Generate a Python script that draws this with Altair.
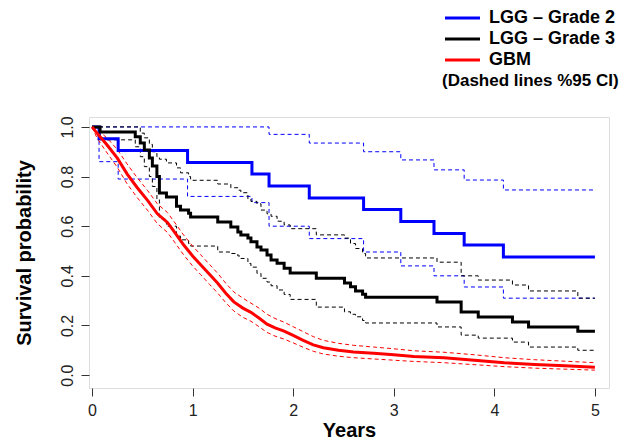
import altair as alt
import pandas as pd

FONT = "Liberation Sans"
groups = ["LGG – Grade 2", "LGG – Grade 3", "GBM"]
colors = ["#0000FF", "#000000", "#FF0000"]

# LGG - Grade 2 (blue)
g2_t = [0, 0.07, 0.26, 0.95, 1.59, 1.76, 2.16, 2.70, 3.07, 3.40, 3.70, 4.09, 5.0]
g2_s = [1.0, 0.952, 0.905, 0.857, 0.81, 0.762, 0.714, 0.667, 0.619, 0.571, 0.524, 0.476, 0.476]
g2_hi = [1.0, 1.0, 1.0, 1.0, 1.0, 0.97, 0.935, 0.90, 0.867, 0.827, 0.786, 0.746, 0.746]
g2_lo = [1.0, 0.86, 0.79, 0.72, 0.695, 0.60, 0.55, 0.496, 0.44, 0.40, 0.355, 0.31, 0.31]

# LGG - Grade 3 (black)
g3_t = [0, 0.08, 0.43, 0.48, 0.52, 0.57, 0.60, 0.645, 0.67, 0.74,
        0.84, 0.88, 0.96, 0.98, 1.25, 1.38, 1.45, 1.48, 1.55, 1.58,
        1.64, 1.68, 1.74, 1.78, 1.84, 1.91, 1.97, 2.23, 2.51, 2.57,
        2.62, 2.69, 2.72, 3.43, 3.67, 3.84, 4.18, 4.34, 4.83, 5.0]
g3_s = [1.0, 0.98, 0.96, 0.935, 0.907, 0.875, 0.843, 0.80, 0.734, 0.718,
        0.68, 0.665, 0.652, 0.637, 0.617, 0.597, 0.577, 0.565, 0.552, 0.537,
        0.516, 0.504, 0.484, 0.464, 0.451, 0.431, 0.411, 0.39, 0.371, 0.356,
        0.339, 0.326, 0.314, 0.295, 0.254, 0.234, 0.214, 0.194, 0.177, 0.177]
g3_hi = [1.0, 1.0, 1.0, 0.975, 0.956, 0.93, 0.90, 0.88, 0.87, 0.855,
         0.835, 0.815, 0.80, 0.785, 0.77, 0.755, 0.745, 0.735, 0.71, 0.70,
         0.69, 0.665, 0.65, 0.64, 0.62, 0.605, 0.59, 0.565, 0.552, 0.53,
         0.51, 0.49, 0.472, 0.455, 0.40, 0.383, 0.363, 0.339, 0.31, 0.31]
g3_lo = [1.0, 0.948, 0.92, 0.88, 0.84, 0.80, 0.76, 0.71, 0.63, 0.60,
         0.56, 0.545, 0.53, 0.52, 0.496, 0.49, 0.48, 0.47, 0.45, 0.435,
         0.41, 0.39, 0.375, 0.36, 0.343, 0.325, 0.305, 0.274, 0.255, 0.245,
         0.235, 0.22, 0.21, 0.194, 0.161, 0.149, 0.133, 0.113, 0.10, 0.10]

# GBM (red)
gbm_t = [0, 0.05, 0.15, 0.25, 0.35, 0.45, 0.55, 0.65, 0.75, 0.84, 0.91, 1.0, 1.08,
         1.17, 1.25, 1.33, 1.41, 1.5, 1.58, 1.66, 1.74, 1.82, 1.91, 2.0, 2.1, 2.2,
         2.3, 2.45, 2.6, 2.8, 3.0, 3.2, 3.5, 3.8, 4.1, 4.4, 4.7, 5.0]
gbm_s = [1.0, 0.975, 0.927, 0.875, 0.81, 0.755, 0.705, 0.65, 0.615, 0.565, 0.525, 0.48, 0.445,
         0.405, 0.37, 0.33, 0.295, 0.27, 0.253, 0.23, 0.205, 0.19, 0.177, 0.16, 0.14, 0.122,
         0.11, 0.1, 0.093, 0.088, 0.082, 0.075, 0.07, 0.06, 0.05, 0.043, 0.038, 0.032]
gbm_hi = [1.0, 0.99, 0.955, 0.91, 0.85, 0.795, 0.745, 0.69, 0.655, 0.605, 0.565, 0.52, 0.485,
          0.445, 0.41, 0.37, 0.335, 0.31, 0.29, 0.27, 0.245, 0.228, 0.213, 0.195, 0.175, 0.155,
          0.14, 0.128, 0.12, 0.113, 0.106, 0.098, 0.092, 0.082, 0.07, 0.062, 0.056, 0.05]
gbm_lo = [1.0, 0.955, 0.895, 0.838, 0.77, 0.715, 0.665, 0.61, 0.575, 0.525, 0.485, 0.44, 0.405,
          0.365, 0.33, 0.292, 0.258, 0.233, 0.217, 0.195, 0.172, 0.157, 0.145, 0.13, 0.112, 0.096,
          0.085, 0.076, 0.07, 0.065, 0.06, 0.055, 0.05, 0.042, 0.034, 0.028, 0.024, 0.02]

legend_note = "(Dashed lines %95 CI)"


def frame(group, t, s, hi, lo):
    rows = []
    for kind, vals in (("est", s), ("upper", hi), ("lower", lo)):
        for ti, v in zip(t, vals):
            rows.append({"t": ti, "S": v, "group": group, "kind": kind})
    return pd.DataFrame(rows)


df = pd.concat([
    frame(groups[0], g2_t, g2_s, g2_hi, g2_lo),
    frame(groups[1], g3_t, g3_s, g3_hi, g3_lo),
    frame(groups[2], gbm_t, gbm_s, gbm_hi, gbm_lo),
], ignore_index=True)

xscale = alt.Scale(domain=[-0.03, 5.14], nice=False, zero=False)
yscale = alt.Scale(domain=[-0.052, 1.04], nice=False, zero=False)
cscale = alt.Scale(domain=groups, range=colors)

xaxis = alt.Axis(values=[0, 1, 2, 3, 4, 5], format="d", title="Years", grid=False,
                 domain=False, tickSize=8, tickColor="#333", labelPadding=6,
                 labelFontSize=16, labelColor="#222", labelFont=FONT,
                 titleFont=FONT, titleFontSize=20, titleFontWeight="bold",
                 titleColor="#000", titlePadding=2)
yaxis = alt.Axis(values=[0, 0.2, 0.4, 0.6, 0.8, 1.0], format=".1f",
                 title="Survival probability", grid=False, domain=False,
                 tickSize=8, tickColor="#333", labelPadding=6, labelAngle=270,
                 labelAlign="center", labelBaseline="bottom",
                 labelFontSize=16, labelColor="#222", labelFont=FONT,
                 titleFont=FONT, titleFontSize=20, titleFontWeight="bold",
                 titleColor="#000", titlePadding=25)

base = alt.Chart(df)


def curve(group, kind, interp):
    sub = base.transform_filter(
        (alt.datum.group == group) & (alt.datum.kind == kind))
    if kind == "est":
        mk = sub.mark_line(interpolate=interp, strokeWidth=3)
    else:
        mk = sub.mark_line(interpolate=interp, strokeWidth=1, strokeDash=[4, 3])
    return mk.encode(
        x=alt.X("t:Q", scale=xscale, axis=xaxis),
        y=alt.Y("S:Q", scale=yscale, axis=yaxis),
        color=alt.Color("group:N", scale=cscale, legend=None),
        order=alt.Order("t:Q"),
    )


layers = []
for g, interp in ((groups[0], "step-after"), (groups[1], "step-after"), (groups[2], "linear")):
    layers.append(curve(g, "upper", interp))
    layers.append(curve(g, "lower", interp))
for g, interp in ((groups[0], "step-after"), (groups[1], "step-after"), (groups[2], "linear")):
    layers.append(curve(g, "est", interp))

# manual legend (layout positions only)
leg_rows = [-99, -78, -57]
for g, c, yy in zip(groups, colors, leg_rows):
    ldf = pd.DataFrame({"label": [g]})
    layers.append(alt.Chart(ldf).mark_rule(color=c, strokeWidth=3).encode(
        x=alt.value(356), x2=alt.value(391), y=alt.value(yy)))
    layers.append(alt.Chart(ldf).mark_text(
        align="left", baseline="middle", font=FONT, fontSize=18,
        fontWeight="bold", color="#000").encode(
        text="label:N", x=alt.value(400), y=alt.value(yy)))
ndf = pd.DataFrame({"label": [legend_note]})
layers.append(alt.Chart(ndf).mark_text(
    align="left", baseline="middle", font=FONT, fontSize=17,
    fontWeight="bold", color="#000").encode(
    text="label:N", x=alt.value(353), y=alt.value(-36)))

chart = alt.layer(*layers).properties(
    width=520, height=271,
    padding={"left": 81, "top": 109, "right": 14, "bottom": 51},
    autosize=alt.AutoSizeParams(type="none"),
).configure_view(stroke="#333", strokeWidth=1).configure(background="white")

chart.save("out.html", embed_options={"renderer": "svg", "actions": False})
